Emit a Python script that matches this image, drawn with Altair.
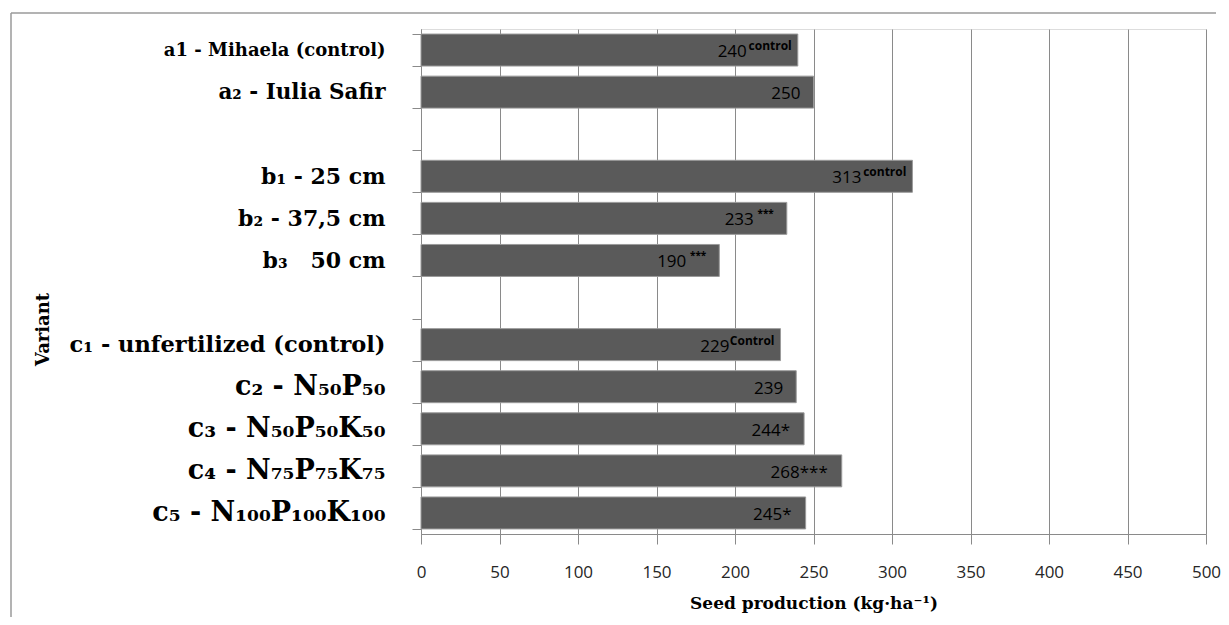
import json
import altair as alt
import pandas as pd

# ---- data ----
row_order = ["a1", "a2", "gap1", "b1", "b2", "b3", "gap2", "c1", "c2", "c3", "c4", "c5"]
keys = ["a1", "a2", "b1", "b2", "b3", "c1", "c2", "c3", "c4", "c5"]
labels = [
    "a1 - Mihaela (control)",
    "a\u2082 - Iulia Safir",
    "b\u2081 - 25 cm",
    "b\u2082 - 37,5 cm",
    "b\u2083\u00a0\u00a0 50 cm",
    "c\u2081 - unfertilized (control)",
    "c\u2082 - N\u2085\u2080P\u2085\u2080",
    "c\u2083 - N\u2085\u2080P\u2085\u2080K\u2085\u2080",
    "c\u2084 - N\u2087\u2085P\u2087\u2085K\u2087\u2085",
    "c\u2085 - N\u2081\u2080\u2080P\u2081\u2080\u2080K\u2081\u2080\u2080",
]
values = [240, 250, 313, 233, 190, 229, 239, 244, 268, 245]
marks = ["control", "", "control", "***", "***", "Control", "", "*", "***", "*"]
mark_kind = ["sup", "none", "sup", "small", "small", "sup", "none", "inline", "inline", "inline"]
x_ticks = [0, 50, 100, 150, 200, 250, 300, 350, 400, 450, 500]

df = pd.DataFrame({"key": keys, "value": values, "mark": marks, "kind": mark_kind})

label_map = {k: "" for k in row_order}
label_map.update(dict(zip(keys, labels)))
label_expr = "(" + json.dumps(label_map, ensure_ascii=False) + ")[datum.value]"

size_map = {"a1": 18, "a2": 21.5, "b1": 22, "b2": 22, "b3": 22, "c1": 22.5}
label_size = {
    "condition": [{"test": f"datum.value == '{k}'", "value": v} for k, v in size_map.items()],
    "value": 27,
}

W, H = 785, 505
GRID = "#8a8a8a"

y_enc = alt.Y(
    "key:N",
    scale=alt.Scale(domain=row_order, paddingInner=0.24, paddingOuter=0.12),
    axis=alt.Axis(
        title="Variant",
        titleFont="DejaVu Serif",
        titleFontSize=18,
        titleFontWeight="bold",
        titleColor="black",
        titleAngle=-90,
        titleX=-378,
        titleY=300,
        titleBaseline="middle",
        titleAlign="center",
        labelExpr=label_expr,
        labelFont="DejaVu Serif",
        labelFontWeight="bold",
        labelFontSize=label_size,
        labelColor="black",
        labelLimit=500,
        labelPadding=27,
        tickBand="extent",
        tickSize=9,
        tickColor=GRID,
        domainColor=GRID,
        grid=False,
    ),
)

x_enc = alt.X(
    "value:Q",
    scale=alt.Scale(domain=[0, 500], nice=False),
    axis=alt.Axis(
        values=x_ticks,
        title="Seed production (kg\u00b7ha\u207b\u00b9)",
        titleFont="DejaVu Serif",
        titleFontSize=17,
        titleFontWeight="bold",
        titleColor="black",
        titlePadding=15,
        labelFont="Open Sans",
        labelFontSize=17,
        labelColor="#262626",
        labelPadding=20,
        labelFlush=False,
        tickSize=10,
        tickColor=GRID,
        domainColor=GRID,
        grid=True,
        gridColor=GRID,
        gridWidth=1,
    ),
)

base = alt.Chart(df)

bars = base.mark_bar(color="#5a5a5a", stroke="#9a9a9a", strokeWidth=1).encode(x=x_enc, y=y_enc)

num_font = dict(font="Open Sans", fontSize=17, color="#000000", align="right", baseline="middle", dy=2)

t_none = base.transform_filter("datum.kind == 'none'").mark_text(dx=-13, **num_font).encode(
    x="value:Q", y="key:N", text="value:Q")

t_inline = base.transform_filter("datum.kind == 'inline'").transform_calculate(
    lbl="datum.value + datum.mark").mark_text(dx=-14, **num_font).encode(
    x="value:Q", y="key:N", text="lbl:N")

t_sup_num = base.transform_filter("datum.kind == 'sup'").mark_text(dx=-51, **num_font).encode(
    x="value:Q", y="key:N", text="value:Q")
t_sup = base.transform_filter("datum.kind == 'sup'").mark_text(
    font="Open Sans", fontSize=12, fontWeight="bold", color="#000000", align="right",
    baseline="middle", dx=-6, dy=-4).encode(x="value:Q", y="key:N", text="mark:N")

t_small_num = base.transform_filter("datum.kind == 'small'").mark_text(dx=-33, **num_font).encode(
    x="value:Q", y="key:N", text="value:Q")
t_small = base.transform_filter("datum.kind == 'small'").mark_text(
    font="Open Sans", fontSize=10, fontWeight="bold", color="#000000", align="right",
    baseline="middle", dx=-13, dy=-4).encode(x="value:Q", y="key:N", text="mark:N")

frame_df = pd.DataFrame({"f": [0]})
frame_top = alt.Chart(frame_df).mark_rule(color="#9a9a9a", strokeWidth=1.5).encode(
    x=alt.value(-410), x2=alt.value(W + 10), y=alt.value(-16))
frame_left = alt.Chart(frame_df).mark_rule(color="#9a9a9a", strokeWidth=1.5).encode(
    x=alt.value(-410), y=alt.value(-16), y2=alt.value(H + 83))

chart = alt.layer(
    bars, t_none, t_inline, t_sup_num, t_sup, t_small_num, t_small, frame_top, frame_left
).properties(
    width=W, height=H, padding={"left": 2, "top": 4, "right": 0, "bottom": 0}
).configure_view(strokeWidth=0).configure(background="white")

chart.save("out.html", embed_options={"renderer": "svg", "actions": False})
